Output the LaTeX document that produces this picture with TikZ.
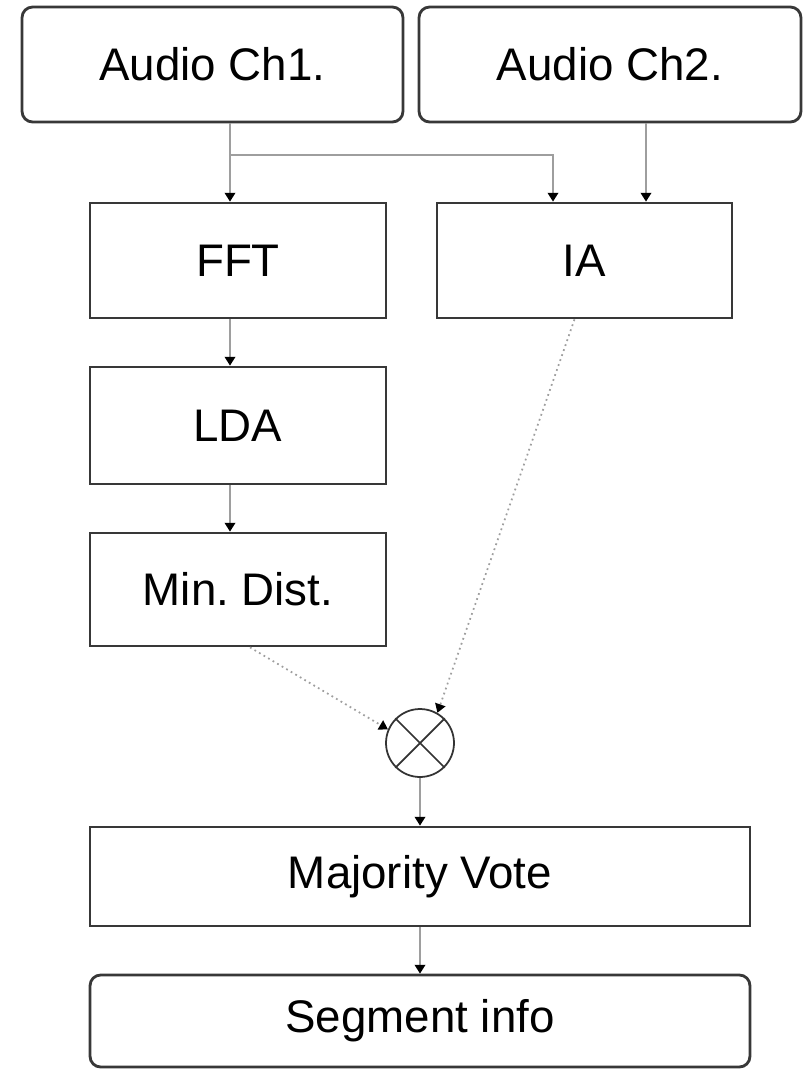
\documentclass[tikz,border=0pt]{standalone}
\usepackage{fontspec}
\setmainfont{Liberation Sans}
\usetikzlibrary{arrows.meta}
\begin{document}
\begin{tikzpicture}[x=0.02cm, y=-0.02cm,
  block/.style={draw=black!78, line width=1.6pt, fill=white, inner sep=0pt,
    font=\fontsize{26}{30}\selectfont},
  source/.style={block, rounded corners=6pt},
  link/.style={draw=black!38, line width=1pt,
    -{Triangle[color=black, length=5pt, width=6pt]}},
  weak/.style={link, dotted}]
  \useasboundingbox (0,0) rectangle (810,1069);

  % inputs
  \node[source, minimum width=7.62cm, minimum height=2.3cm] (ch1) at (212.5,64.5) {Audio Ch1.};
  \node[source, minimum width=7.64cm, minimum height=2.3cm] (ch2) at (610,64.5) {Audio Ch2.};

  % processing chain
  \node[block, minimum width=5.92cm, minimum height=2.3cm] (fft) at (238,260.5) {FFT};
  \node[block, minimum width=5.9cm, minimum height=2.3cm] (ia) at (584.5,260.5) {IA};
  \node[block, minimum width=5.92cm, minimum height=2.34cm] (lda) at (238,425.5) {LDA};
  \node[block, minimum width=5.92cm, minimum height=2.26cm] (mindist) at (238,589.5) {Min.\ Dist.};

  % combiner
  \node[circle, draw=black!80, line width=1pt, minimum size=1.36cm, inner sep=0pt] (mix) at (420,743) {};
  \draw[black!80, line width=1pt] (mix.north west) -- (mix.south east)
    (mix.north east) -- (mix.south west);

  % outputs
  \node[block, minimum width=13.2cm, minimum height=1.98cm] (vote) at (420,876.5) {Majority Vote};
  \node[source, minimum width=13.2cm, minimum height=1.84cm] (seg) at (420,1021) {Segment info};

  \coordinate (tap) at (230,155);
  \coordinate (iaL) at (553,0);
  \coordinate (iaR) at (646,0);

  \draw[link] (ch1.south -| tap) -- (fft.north -| tap);
  \draw[link] (tap) -| (ia.north -| iaL);
  \draw[link] (ch2.south -| iaR) -- (ia.north -| iaR);
  \draw[link] (fft.south -| tap) -- (lda.north -| tap);
  \draw[link] (lda.south -| tap) -- (mindist.north -| tap);
  \draw[weak] ([xshift=0.24cm]mindist.south) -- (mix.157);
  \draw[weak] ([xshift=-0.2cm]ia.south) -- (mix.60);
  \draw[link] (mix) -- (vote);
  \draw[link] (vote) -- (seg);
\end{tikzpicture}
\end{document}
